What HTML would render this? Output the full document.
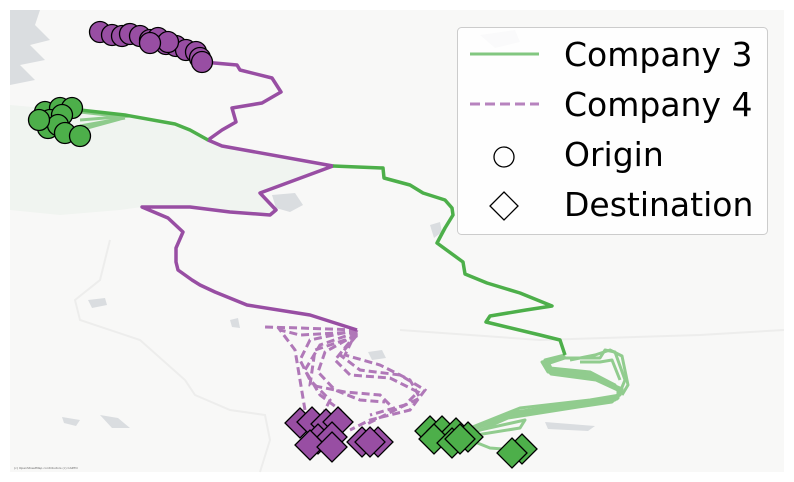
<!DOCTYPE html>
<html><head><meta charset="utf-8"><style>
html,body{margin:0;padding:0;background:#fff;}
svg{display:block;}
</style></head><body>
<svg width="794" height="482" viewBox="0 0 794 482" xmlns="http://www.w3.org/2000/svg">
<rect x="10" y="10" width="774" height="462" fill="#f8f8f7"/>
<!-- water blobs -->
<g fill="#dadde0">
<path d="M10 10 L40 10 L35 25 L50 40 L30 45 L45 60 L20 65 L35 80 L10 85 Z"/>
<path d="M10 135 L25 140 L20 150 L40 160 L35 172 L55 180 L45 190 L70 198 L50 205 L10 200 Z"/>
<path d="M272 195 L295 193 L303 205 L290 212 L276 208 Z"/>
<path d="M430 225 L440 222 L442 232 L434 238 Z"/>
<path d="M480 35 L515 30 L520 42 L495 48 Z"/>
<path d="M88 300 L105 298 L107 305 L92 308 Z"/>
<path d="M230 320 L238 318 L240 328 L232 327 Z"/>
<path d="M368 352 L382 350 L386 358 L372 360 Z"/>
<path d="M62 417 L80 420 L76 426 L64 423 Z"/>
<path d="M100 415 L118 418 L130 428 L112 428 Z"/>
<path d="M545 422 L595 426 L588 431 L548 429 Z"/>
</g>
<path d="M10 105 L125 115 L190 130 L208 140 L222 146 L333 166 L260 193 L276 210 L270 215 L230 212 L190 207 L142 207 L120 210 L60 215 L10 210 Z" fill="#f0f4f0"/>
<!-- faint roads -->
<g fill="none" stroke="#ededec" stroke-width="2">
<path d="M110 240 L100 280 L75 300 L80 320 L140 340 L185 380 L195 395 L230 410 L265 415 L270 440 L260 472"/>
<path d="M400 330 L540 340 L700 335 L784 330"/>
</g>
<!-- purple route -->
<path d="M203 62 L237 65 L240 70 L272 78 L281 92 L262 103 L232 108 L236 122 L222 130 L208 140 L222 146 L333 166 L260 193 L276 210 L270 215 L230 212 L190 207 L142 207 L168 218 L183 232 L176 248 L176 262 L178 270 L192 280 L200 285 L215 292 L247 305 L310 315 L357 330" fill="none" stroke="#984ea3" stroke-width="3.5" stroke-linejoin="round"/>
<!-- green route -->
<g fill="none" stroke="#4daf4a" stroke-width="3.5" stroke-linejoin="round">
<path d="M80 110 L125 115 L175 124 L190 130 L208 140"/>
<path d="M333 166 L383 168 L384 178 L410 185 L423 193 L445 200 L452 208 L453 215 L445 228 L437 243 L463 262 L465 274 L487 283 L520 293 L552 306 L526 310 L490 316 L486 322 L540 335 L560 340 L565 355"/>
</g>
<g fill="none" stroke="#4daf4a" stroke-width="3" opacity="0.6" stroke-linejoin="round">
<path d="M80 112 L125 117 M80 120 L130 116 M80 126 L125 118 M80 130 L120 119"/>
<path d="M565 355 L545 360 L550 368 L590 372 L615 385 L620 395 L590 400 L520 408 L470 428"/>
<path d="M565 355 L548 362 L552 370 L592 375 L618 388 L618 398 L585 402 L515 412 L465 432"/>
<path d="M565 357 L542 362 L548 372 L595 378 L620 390 L615 400 L580 405 L510 415 L460 435"/>
<path d="M565 356 L546 363 L550 371 L593 376 L622 389 L617 399 L583 404 L512 414 L462 433"/>
<path d="M565 358 L544 365 L551 374 L596 380 L622 392 L612 402 L578 407 L508 418 L462 438"/>
<path d="M560 358 L600 358 L605 350 L615 352 L625 380 L620 392"/>
<path d="M570 360 L595 355 L610 350 L622 356 L628 385 L622 395"/>
<path d="M580 362 L600 362 L612 360 L620 380"/>
<path d="M470 440 L490 448 L515 450 M480 430 L525 420 L520 428 L470 436"/>
</g>
<!-- purple dashed bundle -->
<g fill="none" stroke="#984ea3" stroke-width="3" stroke-dasharray="8 4" opacity="0.75">
<path d="M357 330 L300 328 L265 327"/>
<path d="M357 330 L310 340 L300 360 L310 380 L330 400 L320 420"/>
<path d="M357 332 L320 345 L305 370 L320 395 L340 410 L330 430"/>
<path d="M357 335 L340 355 L360 370 L400 375 L425 390 L410 410 L370 420 L350 430"/>
<path d="M357 333 L335 360 L350 375 L390 378 L418 392 L405 405 L370 415"/>
<path d="M357 330 L345 355 L380 365 L410 380 L420 398 L395 410 L365 425"/>
<path d="M357 332 L300 335 L280 330 L295 350 L300 380 L305 410"/>
<path d="M357 336 L315 350 L310 385 L345 392 L380 395 L395 410"/>
<path d="M357 334 L325 352 L318 372 L335 390 L360 400 L385 402"/>
</g>
<!-- origins purple -->
<g fill="#984ea3" stroke="#000" stroke-width="1.3">
<circle cx="100" cy="32" r="10.5"/><circle cx="112" cy="35" r="10.5"/><circle cx="122" cy="36" r="10.5"/><circle cx="130" cy="34" r="10.5"/><circle cx="140" cy="36" r="10.5"/><circle cx="150" cy="40" r="10.5"/><circle cx="158" cy="38" r="10.5"/><circle cx="166" cy="44" r="10.5"/><circle cx="176" cy="46" r="10.5"/><circle cx="186" cy="50" r="10.5"/><circle cx="196" cy="52" r="10.5"/><circle cx="200" cy="58" r="10.5"/><circle cx="202" cy="62" r="10.5"/><circle cx="168" cy="42" r="10.5"/><circle cx="150" cy="43" r="10.5"/>
</g>
<!-- origins green -->
<g fill="#4daf4a" stroke="#000" stroke-width="1.3">
<circle cx="45" cy="112" r="10.5"/><circle cx="60" cy="108" r="10.5"/><circle cx="72" cy="108" r="10.5"/><circle cx="50" cy="120" r="10.5"/><circle cx="62" cy="115" r="10.5"/><circle cx="48" cy="128" r="10.5"/><circle cx="58" cy="125" r="10.5"/><circle cx="39" cy="120" r="10.5"/><circle cx="65" cy="133" r="10.5"/><circle cx="80" cy="136" r="10.5"/>
</g>
<!-- destinations purple -->
<g fill="#984ea3" stroke="#000" stroke-width="1.3">
<path d="M300 408 l15 15 l-15 15 l-15 -15 Z"/><path d="M312 407 l15 15 l-15 15 l-15 -15 Z"/><path d="M326 409 l15 15 l-15 15 l-15 -15 Z"/><path d="M338 407 l15 15 l-15 15 l-15 -15 Z"/>
<path d="M318 424 l15 15 l-15 15 l-15 -15 Z"/><path d="M310 430 l15 15 l-15 15 l-15 -15 Z"/><path d="M332 422 l15 15 l-15 15 l-15 -15 Z"/><path d="M332 432 l15 15 l-15 15 l-15 -15 Z"/>
<path d="M362 427 l15 15 l-15 15 l-15 -15 Z"/><path d="M378 427 l15 15 l-15 15 l-15 -15 Z"/><path d="M370 427 l15 15 l-15 15 l-15 -15 Z"/>
</g>
<!-- destinations green -->
<g fill="#4daf4a" stroke="#000" stroke-width="1.3">
<path d="M430 416 l15 15 l-15 15 l-15 -15 Z"/><path d="M442 416 l15 15 l-15 15 l-15 -15 Z"/><path d="M456 418 l15 15 l-15 15 l-15 -15 Z"/><path d="M468 422 l15 15 l-15 15 l-15 -15 Z"/>
<path d="M434 424 l15 15 l-15 15 l-15 -15 Z"/><path d="M452 428 l15 15 l-15 15 l-15 -15 Z"/><path d="M460 424 l15 15 l-15 15 l-15 -15 Z"/>
<path d="M522 434 l15 15 l-15 15 l-15 -15 Z"/><path d="M512 438 l15 15 l-15 15 l-15 -15 Z"/>
</g>
<!-- legend -->
<rect x="457.5" y="27.5" width="310" height="207" rx="4" fill="#fff" fill-opacity="0.85" stroke="#cccccc"/>
<line x1="470" y1="54" x2="539" y2="54" stroke="#4daf4a" stroke-opacity="0.7" stroke-width="3"/>
<line x1="470" y1="104" x2="539" y2="104" stroke="#984ea3" stroke-opacity="0.7" stroke-width="3" stroke-dasharray="10 5"/>
<circle cx="504" cy="157" r="10" fill="none" stroke="#000" stroke-width="1.3"/>
<path d="M504 192 l14 14 l-14 14 l-14 -14 Z" fill="none" stroke="#000" stroke-width="1.3"/>
<g font-family="DejaVu Sans, sans-serif" font-size="33" fill="#000">
<text x="564" y="66">Company 3</text>
<text x="564" y="116">Company 4</text>
<text x="564" y="166">Origin</text>
<text x="564" y="216">Destination</text>
</g>
<text x="14" y="469" font-family="DejaVu Sans, sans-serif" font-size="3" fill="#666">(c) OpenStreetMap contributors (c) CARTO</text>
</svg>
</body></html>
